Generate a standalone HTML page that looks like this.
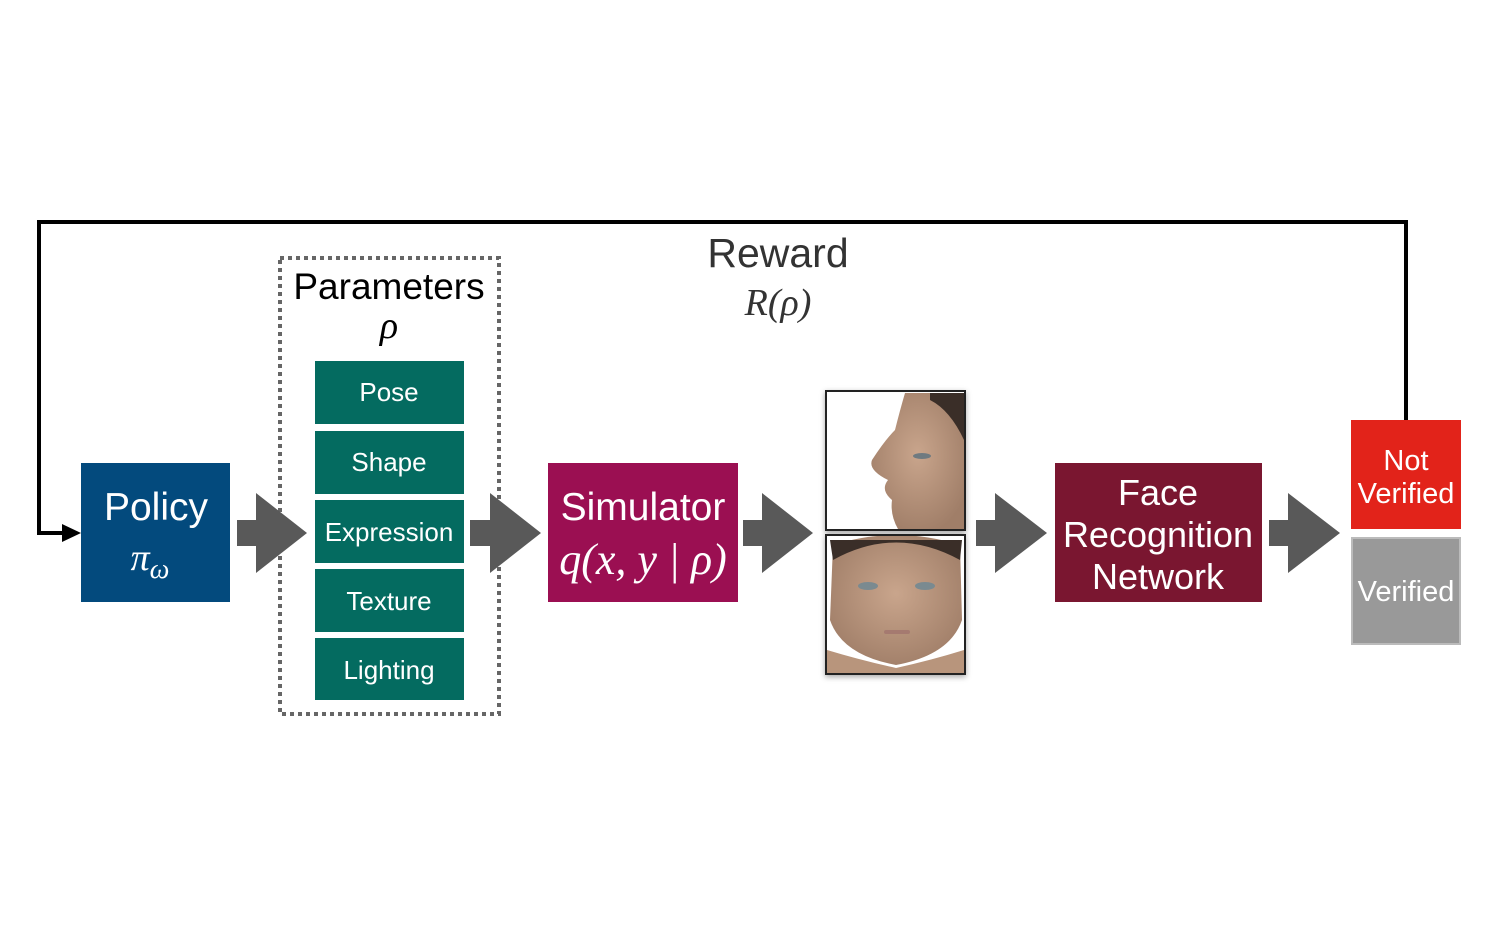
<!DOCTYPE html>
<html><head><meta charset="utf-8"><style>
html,body{margin:0;padding:0;background:#fff;}
svg{display:block;}
.s{font-family:"Liberation Sans",sans-serif;fill:#fff;text-anchor:middle;}
.m{font-family:"Liberation Serif",serif;font-style:italic;text-anchor:middle;}
</style></head><body>
<svg width="1499" height="939" viewBox="0 0 1499 939" xmlns="http://www.w3.org/2000/svg">
<defs>
<radialGradient id="skin" cx="50%" cy="45%" r="60%"><stop offset="0" stop-color="#c9a58c"/><stop offset="1" stop-color="#a07e68"/></radialGradient>
<filter id="sh" x="-10%" y="-10%" width="120%" height="120%"><feDropShadow dx="0" dy="2" stdDeviation="3" flood-opacity="0.35"/></filter>
</defs>
<polyline points="1406,420 1406,222 39,222 39,533 66,533" fill="none" stroke="#000" stroke-width="4"/>
<polygon points="62,524 81,533 62,542" fill="#000"/>
<rect x="81" y="463" width="149" height="139" fill="#034a7d"/>
<text x="156" y="520" class="s" font-size="39">Policy</text>
<text x="150" y="570" class="m" font-size="38" fill="#fff">π<tspan font-size="28" dy="8">ω</tspan></text>
<rect x="280" y="258" width="219" height="456" fill="none" stroke="#666" stroke-width="4" stroke-dasharray="4,4"/>
<text x="389" y="299" font-family="Liberation Sans,sans-serif" font-size="37" text-anchor="middle" fill="#000">Parameters</text>
<text x="389" y="338" class="m" font-size="38" fill="#000">ρ</text>
<g fill="#046b60">
<rect x="315" y="361" width="149" height="63"/><rect x="315" y="431" width="149" height="63"/><rect x="315" y="500" width="149" height="63"/><rect x="315" y="569" width="149" height="63"/><rect x="315" y="638" width="149" height="62"/>
</g>
<text x="389" y="401" class="s" font-size="26">Pose</text><text x="389" y="471" class="s" font-size="26">Shape</text><text x="389" y="541" class="s" font-size="26">Expression</text><text x="389" y="610" class="s" font-size="26">Texture</text><text x="389" y="679" class="s" font-size="26">Lighting</text>
<g fill="#595959">
<polygon points="237,520 256,520 256,493 307,533 256,573 256,546 237,546"/>
<polygon points="470,520 490,520 490,493 541,533 490,573 490,546 470,546"/>
<polygon points="743,520 762,520 762,493 813,533 762,573 762,546 743,546"/>
<polygon points="976,520 995,520 995,493 1047,533 995,573 995,546 976,546"/>
<polygon points="1269,520 1288,520 1288,493 1340,533 1288,573 1288,546 1269,546"/>
</g>
<rect x="548" y="463" width="190" height="139" fill="#9b0f52"/>
<text x="643" y="520" class="s" font-size="39">Simulator</text>
<text x="643" y="574" class="m" font-size="44" fill="#fff">q(x, y | ρ)</text>
<text x="778" y="267" font-family="Liberation Sans,sans-serif" font-size="41" text-anchor="middle" fill="#333">Reward</text>
<text x="778" y="315" class="m" font-size="38" fill="#333">R(ρ)</text>
<g filter="url(#sh)">
<rect x="826" y="391" width="139" height="139" fill="#fff" stroke="#222" stroke-width="2"/>
<rect x="826" y="535" width="139" height="139" fill="#fff" stroke="#222" stroke-width="2"/>
</g>
<path d="M905,393 L964,393 L964,529 L898,529 Q890,515 892,500 Q880,490 888,480 Q868,470 872,460 Q885,440 895,430 Q900,410 905,393Z" fill="url(#skin)"/>
<path d="M930,393 L964,393 L964,440 Q950,410 930,400Z" fill="#3a2e28"/>
<ellipse cx="922" cy="456" rx="9" ry="3" fill="#6f7a80"/>
<path d="M827,536 L964,536 L964,673 L827,673Z" fill="#fff"/>
<path d="M833,545 Q896,525 960,545 L962,620 Q950,655 896,665 Q842,655 830,620Z" fill="url(#skin)"/>
<path d="M827,650 Q860,660 896,668 Q932,660 964,650 L964,673 L827,673Z" fill="#b8957c"/>
<path d="M833,560 Q896,525 960,560 L962,540 L830,540Z" fill="#3a2e28"/>
<ellipse cx="868" cy="586" rx="10" ry="4" fill="#7a8a90"/><ellipse cx="925" cy="586" rx="10" ry="4" fill="#7a8a90"/>
<rect x="884" y="630" width="26" height="4" rx="2" fill="#a57a70"/>
<rect x="826" y="391" width="139" height="139" fill="none" stroke="#222" stroke-width="2"/>
<rect x="826" y="535" width="139" height="139" fill="none" stroke="#222" stroke-width="2"/>
<rect x="1055" y="463" width="207" height="139" fill="#7a1630"/>
<text x="1158" y="505" class="s" font-size="36">Face</text>
<text x="1158" y="547" class="s" font-size="36">Recognition</text>
<text x="1158" y="589" class="s" font-size="36">Network</text>
<rect x="1351" y="420" width="110" height="109" fill="#e2231a"/>
<text x="1406" y="470" class="s" font-size="29">Not</text>
<text x="1406" y="503" class="s" font-size="29">Verified</text>
<rect x="1352" y="538" width="108" height="106" fill="#999" stroke="#bbb" stroke-width="2"/>
<text x="1406" y="601" class="s" font-size="29" fill="#eee">Verified</text>
</svg>
</body></html>
